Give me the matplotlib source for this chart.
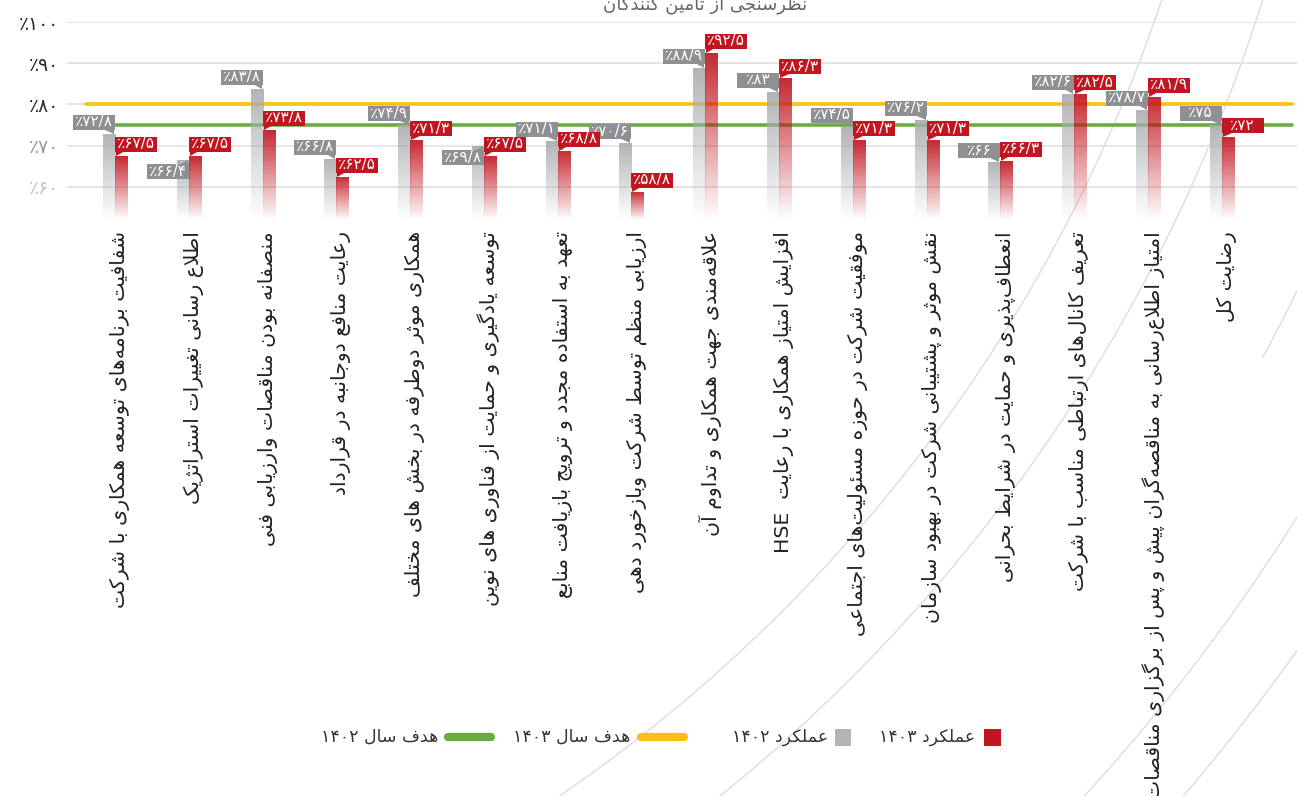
import re

import numpy as np
import matplotlib
matplotlib.use('Agg')
import matplotlib.pyplot as plt
import matplotlib.transforms as mtransforms
from matplotlib.patches import Polygon, Rectangle, Circle, Arc
from matplotlib.lines import Line2D

# Survey items (one group of bars per item)
categories = [
    'شفافیت برنامه‌های توسعه همکاری با شرکت',
    'اطلاع رسانی تغییرات استراتژیک',
    'منصفانه بودن مناقصات وارزیابی فنی',
    'رعایت منافع دوجانبه در قرارداد',
    'همکاری موثر دوطرفه در بخش های مختلف',
    'توسعه یادگیری و حمایت از فناوری های نوین',
    'تعهد به استفاده مجدد و ترویج بازیافت منابع',
    'ارزیابی منظم توسط شرکت وبازخورد دهی',
    'علاقه‌مندی جهت همکاری و تداوم آن',
    'افزایش امتیاز همکاری با رعایت  HSE',
    'موفقیت شرکت در حوزه مسئولیت‌های اجتماعی',
    'نقش موثر و پشتیبانی شرکت در بهبود سازمان',
    'انعطاف‌پذیری و حمایت در شرایط بحرانی',
    'تعریف کانال‌های ارتباطی مناسب با شرکت',
    'امتیاز اطلاع‌رسانی به مناقصه‌گران پیش و پس از برگزاری مناقصات',
    'رضایت کل',
]
perf_1402 = [72.8, 66.4, 83.8, 66.8, 74.9, 69.8, 71.1, 70.6, 88.9, 83.0, 74.5, 76.2, 66.0, 82.6, 78.7, 75.0]
perf_1403 = [67.5, 67.5, 73.8, 62.5, 71.3, 67.5, 68.8, 58.8, 92.5, 86.3, 71.3, 71.3, 66.3, 82.5, 81.9, 72.0]
target_1402 = 75
target_1403 = 80
yticks = [60, 70, 80, 90, 100]
ytick_colors = ['#c4c4c4', '#9a9a9a', '#2b2b2b', '#2b2b2b', '#2b2b2b']

title = 'نظرسنجی از تامین کنندگان'
legend_labels = ['عملکرد ۱۴۰۳', 'عملکرد ۱۴۰۲', 'هدف سال ۱۴۰۳', 'هدف سال ۱۴۰۲']

RED = '#c1161f'
GRAY = '#a9abae'
GRAY_BOX = '#8e9093'
YELLOW = '#fdbf12'
GREEN = '#6aab45'

# --- minimal Persian shaping (matplotlib has no complex text layout) ---
# isolated, final, initial, medial
FORMS = {
    'ا': ('\uFE8D', '\uFE8E', None, None), 'آ': ('\uFE81', '\uFE82', None, None),
    'ؤ': ('\uFE85', '\uFE86', None, None), 'ئ': ('\uFE89', '\uFE8A', '\uFE8B', '\uFE8C'),
    'ب': ('\uFE8F', '\uFE90', '\uFE91', '\uFE92'), 'پ': ('\uFB56', '\uFB57', '\uFB58', '\uFB59'),
    'ت': ('\uFE95', '\uFE96', '\uFE97', '\uFE98'), 'ث': ('\uFE99', '\uFE9A', '\uFE9B', '\uFE9C'),
    'ج': ('\uFE9D', '\uFE9E', '\uFE9F', '\uFEA0'), 'چ': ('\uFB7A', '\uFB7B', '\uFB7C', '\uFB7D'),
    'ح': ('\uFEA1', '\uFEA2', '\uFEA3', '\uFEA4'), 'خ': ('\uFEA5', '\uFEA6', '\uFEA7', '\uFEA8'),
    'د': ('\uFEA9', '\uFEAA', None, None), 'ذ': ('\uFEAB', '\uFEAC', None, None),
    'ر': ('\uFEAD', '\uFEAE', None, None), 'ز': ('\uFEAF', '\uFEB0', None, None),
    'ژ': ('\uFB8A', '\uFB8B', None, None),
    'س': ('\uFEB1', '\uFEB2', '\uFEB3', '\uFEB4'), 'ش': ('\uFEB5', '\uFEB6', '\uFEB7', '\uFEB8'),
    'ص': ('\uFEB9', '\uFEBA', '\uFEBB', '\uFEBC'), 'ض': ('\uFEBD', '\uFEBE', '\uFEBF', '\uFEC0'),
    'ط': ('\uFEC1', '\uFEC2', '\uFEC3', '\uFEC4'), 'ظ': ('\uFEC5', '\uFEC6', '\uFEC7', '\uFEC8'),
    'ع': ('\uFEC9', '\uFECA', '\uFECB', '\uFECC'), 'غ': ('\uFECD', '\uFECE', '\uFECF', '\uFED0'),
    'ف': ('\uFED1', '\uFED2', '\uFED3', '\uFED4'), 'ق': ('\uFED5', '\uFED6', '\uFED7', '\uFED8'),
    'ک': ('\uFB8E', '\uFB8F', '\uFB90', '\uFB91'), 'گ': ('\uFB92', '\uFB93', '\uFB94', '\uFB95'),
    'ل': ('\uFEDD', '\uFEDE', '\uFEDF', '\uFEE0'), 'م': ('\uFEE1', '\uFEE2', '\uFEE3', '\uFEE4'),
    'ن': ('\uFEE5', '\uFEE6', '\uFEE7', '\uFEE8'), 'ه': ('\uFEE9', '\uFEEA', '\uFEEB', '\uFEEC'),
    'و': ('\uFEED', '\uFEEE', None, None), 'ی': ('\uFBFC', '\uFBFD', '\uFBFE', '\uFBFF'),
}
LAM_ALEF = {'ا': ('\uFEFB', '\uFEFC'), 'آ': ('\uFEF5', '\uFEF6')}
ZWNJ = '\u200c'


def _dual(c):
    return c in FORMS and FORMS[c][2] is not None


def rtl(text):
    out = []
    i = 0
    while i < len(text):
        c = text[i]
        if c not in FORMS:
            if c != ZWNJ:
                out.append(c)
            i += 1
            continue
        joins_prev = i > 0 and _dual(text[i - 1])
        nxt = text[i + 1] if i + 1 < len(text) else ''
        if c == 'ل' and nxt in LAM_ALEF:
            out.append(LAM_ALEF[nxt][1 if joins_prev else 0])
            i += 2
            continue
        joins_next = _dual(c) and nxt in FORMS
        iso, fin, ini, med = FORMS[c]
        if joins_prev and joins_next:
            out.append(med)
        elif joins_prev:
            out.append(fin)
        elif joins_next:
            out.append(ini)
        else:
            out.append(iso)
        i += 1
    # visual order: numbers / latin stay left-to-right, the rest is reversed
    tokens = re.findall(r'[A-Za-z0-9\u06F0-\u06F9/]+|.', ''.join(out))
    return ''.join(reversed(tokens))


FA = str.maketrans('0123456789.', '۰۱۲۳۴۵۶۷۸۹/')


def fa_pct(v):
    return '٪' + f'{v:g}'.translate(FA)


# --- figure ---
W, H = 1297, 796
fig = plt.figure(figsize=(W / 100, H / 100), dpi=100)
base = 52
ax_h = 197.8
ax = fig.add_axes([67 / W, 1 - 219.8 / H, 1 - 67 / W, ax_h / H])
ax.patch.set_alpha(0)
px_per_unit = ax_h / (100 - base)

x = np.arange(len(categories))
w = 0.163


def gradient(color, a_top):
    rgb = matplotlib.colors.to_rgb(color)
    img = np.zeros((256, 1, 4))
    img[..., :3] = rgb
    img[:, 0, 3] = np.linspace(a_top, 0, 256)
    return img


bars_old = ax.bar(x - w / 2, np.array(perf_1402) - base, w, bottom=base)
bars_new = ax.bar(x + w / 2, np.array(perf_1403) - base, w, bottom=base)
for bars, col, a in ((bars_old, GRAY, 0.9), (bars_new, RED, 0.92)):
    for p in bars:
        p.set_facecolor('none')
        p.set_edgecolor('none')
        x0, y0 = p.get_x(), p.get_y()
        im = ax.imshow(gradient(col, a), extent=(x0, x0 + p.get_width(), y0, y0 + p.get_height()),
                       aspect='auto', interpolation='bilinear', zorder=3)
        im.set_clip_path(p)

# target lines
ax.plot([-0.393, 15.95], [target_1403] * 2, color=YELLOW, lw=2.6, zorder=2, solid_capstyle='round')
ax.plot([-0.393, 15.95], [target_1402] * 2, color=GREEN, lw=2.6, zorder=2, solid_capstyle='round')

# value tags: fixed-size box (pixels) next to the bar top, with a small pointer
BOX_W, BOX_H, GAP = 42, 15, 4


def callout(xa, v, text, fc, left, z, below=False):
    sgn = -1 if left else 1
    up = -1 if below else 1
    trans = fig.dpi_scale_trans + mtransforms.ScaledTranslation(xa, v, ax.transData)
    y0, y1 = up * GAP, up * (GAP + BOX_H)
    box = np.array([[0, y0], [sgn * BOX_W, y0], [sgn * BOX_W, y1], [0, y1]]) / 100
    tri = np.array([[sgn * 10, up * (GAP + 0.5)], [sgn * 1, up * (GAP + 0.5)], [sgn * 1, 0]]) / 100
    for verts in (box, tri):
        ax.add_patch(Polygon(verts, closed=True, fc=fc, ec='none', transform=trans, zorder=z,
                             clip_on=False))
    ax.annotate(text, xy=(xa, v), xytext=(sgn * BOX_W / 2, min(y0, y1) + 3.6), textcoords='offset pixels',
                ha='center', va='baseline', fontsize=11, color='white', zorder=z + 0.005,
                annotation_clip=False)


# 1402 tags first; a tag that would collide with the neighbour's 1403 tag hangs below its bar top
for k, (xi, a) in enumerate(zip(x, perf_1402)):
    prev = perf_1403[k - 1] if k > 0 else None
    below = prev is not None and 0 < (prev - a) * px_per_unit < BOX_H
    callout(xi, a, fa_pct(a), GRAY_BOX, True, 5 + k * 0.01, below)
for k, (xi, b) in enumerate(zip(x, perf_1403)):
    callout(xi, b, fa_pct(b), RED, False, 6 + k * 0.01)

# category names under the bars
for xi, name in zip(x, categories):
    ax.text(xi + 0.07, 49.3, rtl(name), rotation=90, ha='center', va='top',
            fontsize=14.7, color='#222222', clip_on=False)

ax.set_xlim(-0.65, 16.02)
ax.set_ylim(base, 100)
ax.set_yticks(yticks)
ax.set_yticklabels(['٪' + str(t).translate(FA) for t in yticks], fontsize=13.5)
for lab, c in zip(ax.get_yticklabels(), ytick_colors):
    lab.set_color(c)
ax.tick_params(axis='y', length=0, pad=6)
ax.set_xticks([])
ax.yaxis.grid(True, color='#e3e3e3', lw=1.3)
ax.set_axisbelow(True)
for s in ax.spines.values():
    s.set_visible(False)

fig.text(705 / W, 1 - 9 / H, rtl(title), ha='center', va='baseline', fontsize=13, color='#666666')

# legend (drawn right to left)
ly = 1 - 737 / H
fig.add_artist(Rectangle((984 / W, ly - 8.5 / H), 17 / W, 17 / H, transform=fig.transFigure, fc=RED, ec='none'))
fig.text(975 / W, ly, rtl(legend_labels[0]), ha='right', va='center', fontsize=12.5, color='#333333')
fig.add_artist(Rectangle((835 / W, ly - 8.5 / H), 16 / W, 17 / H, transform=fig.transFigure, fc='#b1b3b6', ec='none'))
fig.text(828 / W, ly, rtl(legend_labels[1]), ha='right', va='center', fontsize=12.5, color='#333333')
fig.add_artist(Line2D([641 / W, 684 / W], [ly, ly], transform=fig.transFigure, color=YELLOW, lw=6,
                      solid_capstyle='round'))
fig.text(630 / W, ly, rtl(legend_labels[2]), ha='right', va='center', fontsize=12.5, color='#333333')
fig.add_artist(Line2D([448 / W, 491 / W], [ly, ly], transform=fig.transFigure, color=GREEN, lw=6,
                      solid_capstyle='round'))
fig.text(438 / W, ly, rtl(legend_labels[3]), ha='right', va='center', fontsize=12.5, color='#333333')

# faint background rings
ring_center = (-3.29, 12.98)
for r in (1573, 1669, 1919, 1993):
    fig.add_artist(Circle(ring_center, r / 100, transform=fig.dpi_scale_trans, fill=False,
                          ec='#dadada', lw=0.9, zorder=-1))
fig.add_artist(Arc(ring_center, 36.18, 36.18, theta1=-28.4, theta2=-25.0, transform=fig.dpi_scale_trans,
                   ec='#dadada', lw=0.9, zorder=-1))

fig.savefig('out.png', dpi=100)
